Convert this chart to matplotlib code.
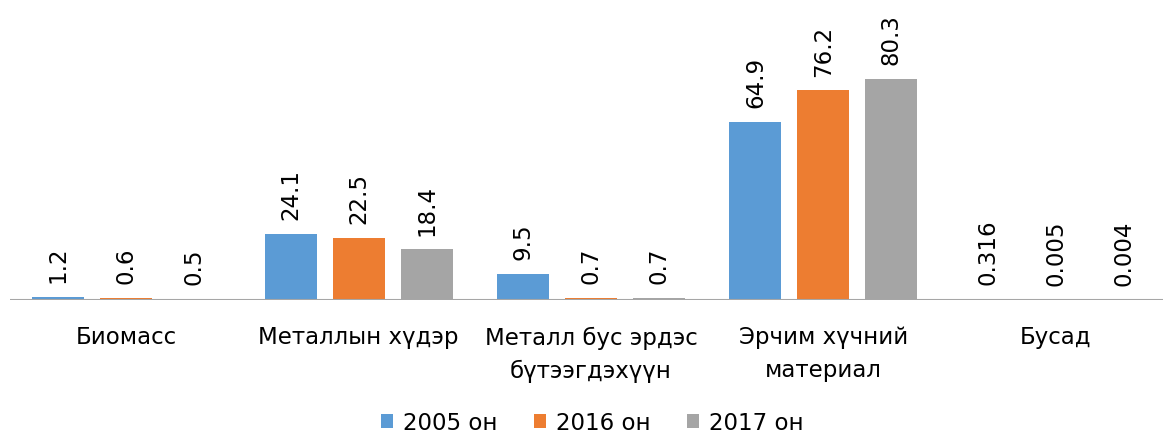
import matplotlib
matplotlib.use("Agg")
import matplotlib.pyplot as plt
import numpy as np

categories = ["Биомасс", "Металлын хүдэр", "Металл бус эрдэс\nбүтээгдэхүүн",
              "Эрчим хүчний\nматериал", "Бусад"]
series_names = ["2005 он", "2016 он", "2017 он"]
v2005 = [1.2, 24.1, 9.5, 64.9, 0.316]
v2016 = [0.6, 22.5, 0.7, 76.2, 0.005]
v2017 = [0.5, 18.4, 0.7, 80.3, 0.004]
labels2005 = ["1.2", "24.1", "9.5", "64.9", "0.316"]
labels2016 = ["0.6", "22.5", "0.7", "76.2", "0.005"]
labels2017 = ["0.5", "18.4", "0.7", "80.3", "0.004"]

colors = ["#5B9BD5", "#ED7D31", "#A5A5A5"]

plt.rcParams['font.family'] = ['DejaVu Sans']

W, H = 1163, 434
fig = plt.figure(figsize=(W / 100, H / 100), dpi=100)
ax = fig.add_axes([10 / W, (H - 300) / H, 1162 / W, 275 / H])

x = np.arange(len(categories))
bw = 52 / 232.4
step = 68 / 232.4
all_vals = [v2005, v2016, v2017]
all_labels = [labels2005, labels2016, labels2017]
handles = []
for i, (vals, labs) in enumerate(zip(all_vals, all_labels)):
    pos = x + (i - 1) * step
    b = ax.bar(pos, vals, width=bw, color=colors[i], label=series_names[i], zorder=2)
    handles.append(b)
    for p, v, t in zip(pos, vals, labs):
        ax.annotate(t, (p, v), xytext=(0, 10), textcoords="offset points",
                    rotation=90, ha="center", va="bottom", fontsize=16.5,
                    color="black", annotation_clip=False)

ax.set_xlim(-0.5, len(categories) - 0.5)
ax.set_ylim(0, 100)
ax.axhline(0, color="#A6A6A6", lw=1.5, zorder=3)
for s in ax.spines.values():
    s.set_visible(False)
ax.set_yticks([])
ax.set_xticks(x)
ax.set_xticklabels(categories, fontsize=16.5, linespacing=1.55)
ax.tick_params(axis="x", length=0, pad=19)

fig.legend(handles=handles, labels=series_names, loc="center",
           bbox_to_anchor=(592 / W, 1 - 423 / H), ncol=3, frameon=False,
           fontsize=16.5, handlelength=0.55, handleheight=0.55, handletextpad=0.4,
           columnspacing=1.6)

fig.savefig("out.png", dpi=100)
